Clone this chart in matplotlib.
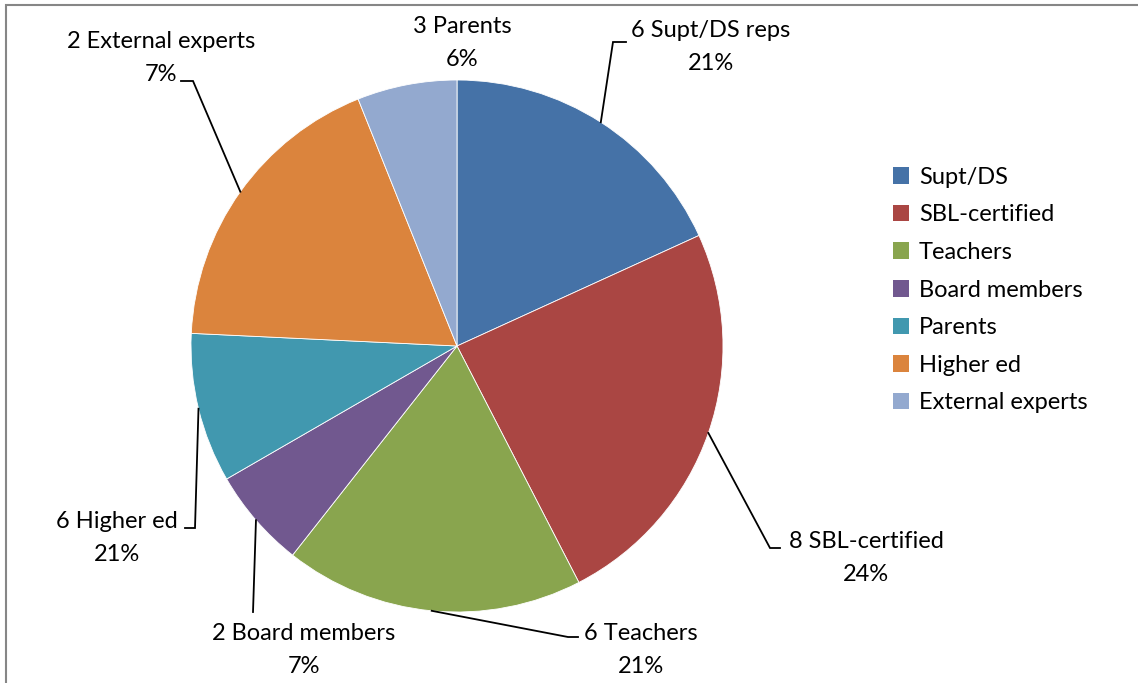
import numpy as np
import matplotlib.pyplot as plt
from matplotlib.patches import Rectangle

# slice data (counts per group)
groups = ['Supt/DS', 'SBL-certified', 'Teachers', 'Board members',
          'Parents', 'Higher ed', 'External experts']
counts = [6, 8, 6, 2, 3, 6, 2]
colors = ['#4572A7', '#AA4643', '#89A54E', '#71588F',
          '#4198AF', '#DB843D', '#93A9CF']

# data labels as they appear in the source chart
label_texts = ['6 Supt/DS reps\n21%', '8 SBL-certified\n24%', '6 Teachers\n21%',
               '2 Board members\n7%', '6 Higher ed\n21%',
               '2 External experts\n7%', '3 Parents\n6%']

W, H = 1138, 683
CX, CY, R = 457, 346, 266  # pie centre / radius in pixels


def px(x, y):
    # pixel position -> pie data units
    return (x - CX) / R, (CY - y) / R


# label centre, elbow, end of leader (pixels); None = no leader line
label_pos = [(711, 47), (866, 558), (641, 650), (304, 650),
             (117, 538), (161, 58), (462, 43)]
elbows = [(613, 42), (770, 548), (568, 637), (253, 612),
          (195, 528), (193, 81), None]
ends = [(626, 42), (780, 548), (578, 637), None,
        (185, 528), (181, 81), None]

plt.rcParams['font.family'] = ['Lato', 'DejaVu Sans']
fig = plt.figure(figsize=(W / 100, H / 100), dpi=100)
ax = fig.add_axes([(CX - R) / W, (H - CY - R) / H, 2 * R / W, 2 * R / H])

wedges, _ = ax.pie(counts, colors=colors, startangle=90, counterclock=False,
                   radius=1, wedgeprops=dict(edgecolor='white', linewidth=0.6))
ax.set_xlim(-1, 1)
ax.set_ylim(-1, 1)
ax.set_aspect('equal')
ax.axis('off')

for i, w in enumerate(wedges):
    mid = np.deg2rad((w.theta1 + w.theta2) / 2)
    sx, sy = np.cos(mid), np.sin(mid)
    tx, ty = px(*label_pos[i])
    ax.text(tx, ty, label_texts[i], ha='center', va='center', fontsize=17,
            linespacing=1.68, color='black', clip_on=False)
    if elbows[i] is None:
        continue
    xs, ys = [sx], [sy]
    ex, ey = px(*elbows[i])
    xs.append(ex); ys.append(ey)
    if ends[i] is not None:
        fx, fy = px(*ends[i])
        xs.append(fx); ys.append(fy)
    ax.plot(xs, ys, color='black', lw=1.3, clip_on=False, solid_joinstyle='miter')

leg = fig.legend(wedges, groups, loc='center left',
                 bbox_to_anchor=(881 / W, 1 - 290 / H), frameon=False,
                 fontsize=17, handlelength=0.7, handleheight=0.7,
                 handletextpad=0.4, labelspacing=0.7, borderpad=0)
for h in leg.legend_handles:
    h.set_edgecolor('none')

# chart border (only top and left edges visible in the crop)
fig.add_artist(Rectangle((6 / W, -0.5), 2, 1.5 - 5 / H, transform=fig.transFigure,
                         fill=False, edgecolor='#868686', linewidth=1.5))

fig.savefig('out.png', dpi=100)
